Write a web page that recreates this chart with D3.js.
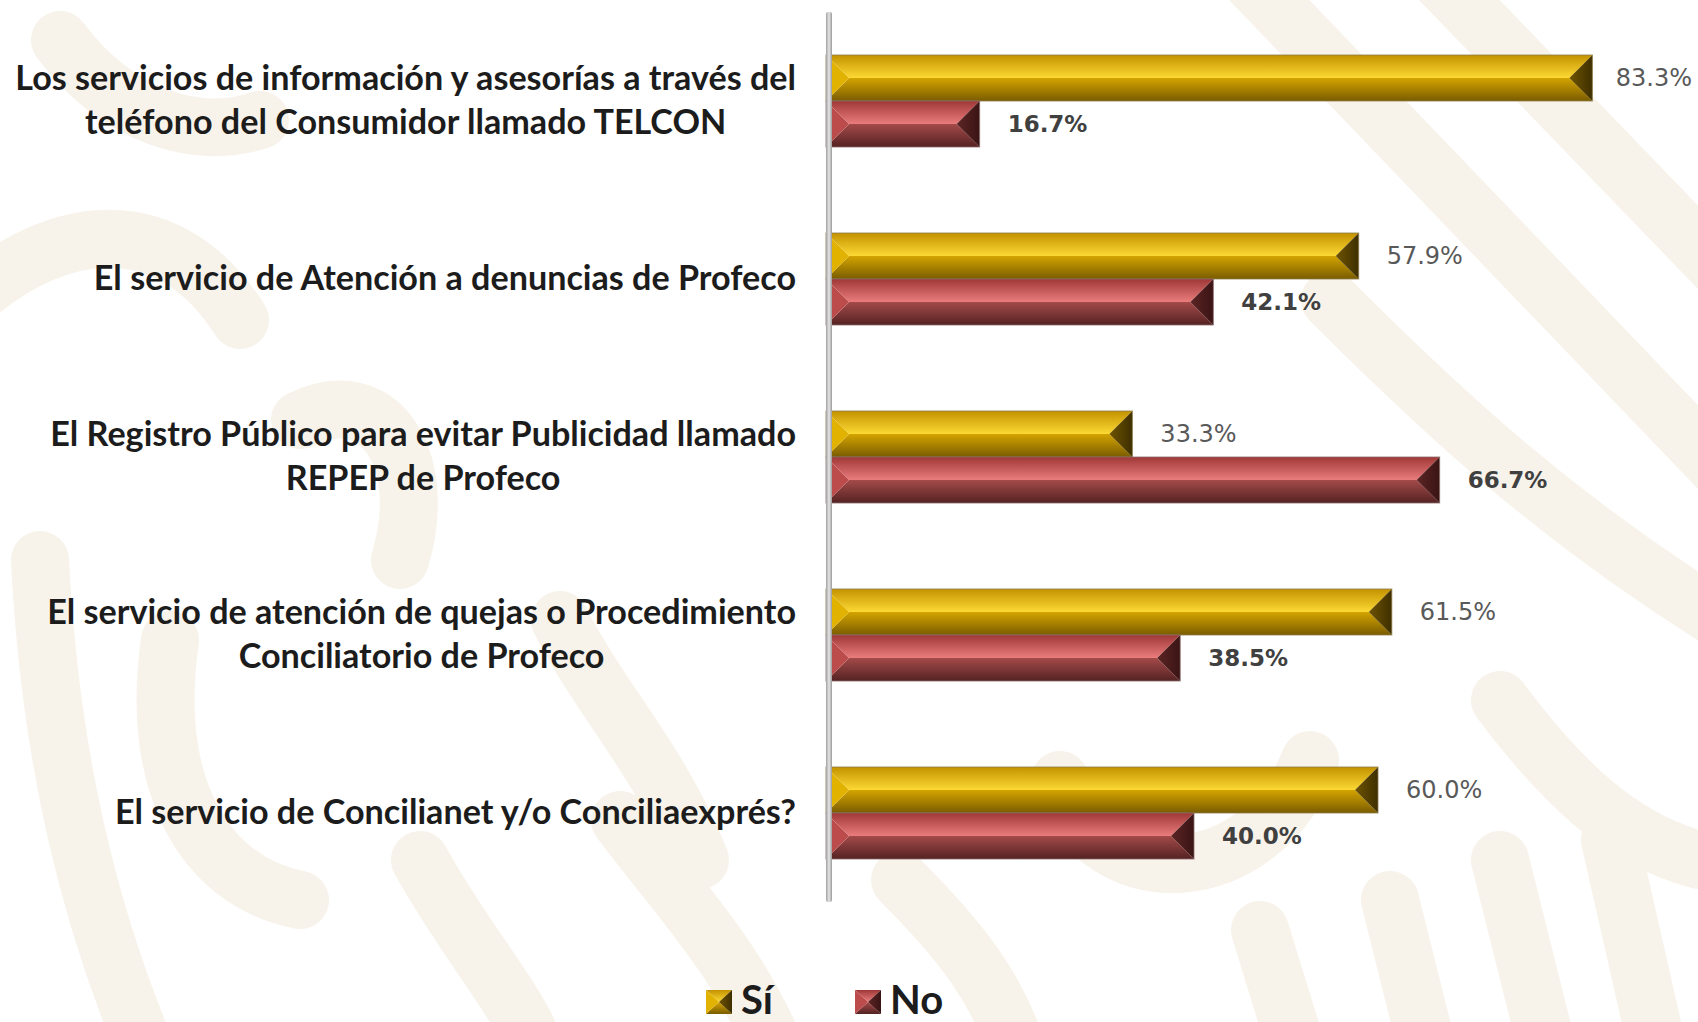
<!DOCTYPE html>
<html>
<head>
<meta charset="utf-8">
<script src="https://cdn.jsdelivr.net/npm/d3@7"></script>
<style>
  html, body { margin: 0; padding: 0; background: #fff; overflow: hidden; }
  svg { display: block; }
</style>
</head>
<body>
<svg id="chart" width="1698" height="1022"></svg>
<script>
// Datos de la gráfica
const categories = [
  'Los servicios de información y asesorías a través del teléfono del Consumidor llamado TELCON',
  'El servicio de Atención a denuncias de Profeco',
  'El Registro Público para evitar Publicidad llamado REPEP de Profeco',
  'El servicio de atención de quejas o Procedimiento Conciliatorio de Profeco',
  'El servicio de Concilianet y/o Conciliaexprés?'
];
const categoryLines = [
  ['Los servicios de información y asesorías a través del', 'teléfono del Consumidor llamado TELCON'],
  ['El servicio de Atención a denuncias de Profeco'],
  ['El Registro Público para evitar Publicidad llamado', 'REPEP de Profeco'],
  ['El servicio de atención de quejas o Procedimiento', 'Conciliatorio de Profeco'],
  ['El servicio de Concilianet y/o Conciliaexprés?']
];
const seriesNames = ['Sí', 'No'];
const siValues = [83.3, 57.9, 33.3, 61.5, 60.0];
const noValues = [16.7, 42.1, 66.7, 38.5, 40.0];

const W = 1698, H = 1022;
const PALETTE = {
  'Sí': { top0: '#c49200', top1: '#fcd934', bot0: '#d4a400', bot1: '#7a5c00', left: '#e2b200', right0: '#6e5300', right1: '#3e2f00', edge: '#8c7a4a' },
  'No': { top0: '#a03838', top1: '#ea7c7c', bot0: '#a44a4a', bot1: '#552222', left: '#bc4c4c', right0: '#5c2424', right1: '#3a1414', edge: '#8a6a6a' }
};

const svg = d3.select('#chart');
const defs = svg.append('defs');

// ── Fondo decorativo ─────────────────────────────────────────────────────────
const bgPaths = [
  'M -30 300 C 60 220, 170 210, 240 320',
  'M 40 560 C 50 760, 90 920, 150 1060',
  'M 170 640 C 150 780, 200 880, 300 900',
  'M 300 420 C 380 380, 430 460, 400 560',
  'M 420 860 C 470 950, 520 1000, 540 1060',
  'M 560 620 C 600 700, 660 760, 700 860',
  'M 620 820 C 680 900, 740 960, 780 1060',
  'M 1060 780 C 1100 900, 1260 890, 1310 760',
  'M 1250 -20 L 1720 470',
  'M 1440 -20 L 1720 270',
  'M 1330 300 C 1450 420, 1560 520, 1720 620',
  'M 1500 700 C 1560 780, 1620 840, 1700 860',
  'M 1260 930 L 1300 1060',
  'M 1390 900 L 1430 1060',
  'M 1500 860 L 1550 1060',
  'M 1610 840 L 1660 1060',
  'M 900 880 C 960 940, 1000 990, 1020 1060',
  'M 60 40 C 120 120, 200 140, 260 120'
];
svg.append('g')
  .selectAll('path')
  .data(bgPaths)
  .join('path')
  .attr('d', d => d)
  .attr('fill', 'none')
  .attr('stroke', '#f8f3ea')
  .attr('stroke-width', 58)
  .attr('stroke-linecap', 'round');

// ── Degradados ───────────────────────────────────────────────────────────────
seriesNames.forEach((s, i) => {
  const p = PALETTE[s];
  const top = defs.append('linearGradient').attr('id', `top${i}`).attr('x1', 0).attr('y1', 0).attr('x2', 0).attr('y2', 1);
  top.append('stop').attr('offset', '0%').attr('stop-color', p.top0);
  top.append('stop').attr('offset', '100%').attr('stop-color', p.top1);
  const bot = defs.append('linearGradient').attr('id', `bot${i}`).attr('x1', 0).attr('y1', 0).attr('x2', 0).attr('y2', 1);
  bot.append('stop').attr('offset', '0%').attr('stop-color', p.bot0);
  bot.append('stop').attr('offset', '100%').attr('stop-color', p.bot1);
  const right = defs.append('linearGradient').attr('id', `right${i}`).attr('x1', 0).attr('y1', 0).attr('x2', 1).attr('y2', 0);
  right.append('stop').attr('offset', '0%').attr('stop-color', p.right0);
  right.append('stop').attr('offset', '100%').attr('stop-color', p.right1);
});
const axisGrad = defs.append('linearGradient').attr('id', 'axisGrad').attr('x1', 0).attr('y1', 0).attr('x2', 1).attr('y2', 0);
axisGrad.append('stop').attr('offset', '0%').attr('stop-color', '#a0a0a0');
axisGrad.append('stop').attr('offset', '50%').attr('stop-color', '#e6e6e6');
axisGrad.append('stop').attr('offset', '100%').attr('stop-color', '#9a9a9a');

// ── Escalas ──────────────────────────────────────────────────────────────────
const x = d3.scaleLinear().domain([0, 100]).range([826, 1746]);
const y0 = d3.scaleBand().domain(categories).range([12, 902]).padding(0);
const y1 = d3.scaleBand().domain(seriesNames).range([43, 135]).padding(0);

const rows = categories.map((c, i) => ({
  cat: c,
  lines: categoryLines[i],
  values: [
    { series: 'Sí', si: 0, value: siValues[i] },
    { series: 'No', si: 1, value: noValues[i] }
  ]
}));

// Barra biselada (estilo Excel "ángulo")
function bevelBar(g, bx0, bx1, by0, by1, si) {
  const h = by1 - by0;
  const b = Math.min(h / 2, (bx1 - bx0) / 2);
  const ym = by0 + h / 2;
  const p = PALETTE[seriesNames[si]];
  const pt = arr => arr.map(a => a.join(',')).join(' ');
  g.append('polygon').attr('points', pt([[bx0, by0], [bx1, by0], [bx1 - b, ym], [bx0 + b, ym]])).attr('fill', `url(#top${si})`);
  g.append('polygon').attr('points', pt([[bx0 + b, ym], [bx1 - b, ym], [bx1, by1], [bx0, by1]])).attr('fill', `url(#bot${si})`);
  g.append('polygon').attr('points', pt([[bx0, by0], [bx0 + b, ym], [bx0, by1]])).attr('fill', p.left);
  g.append('polygon').attr('points', pt([[bx1, by0], [bx1, by1], [bx1 - b, ym]])).attr('fill', `url(#right${si})`);
  g.append('rect').attr('x', bx0).attr('y', by0).attr('width', bx1 - bx0).attr('height', h)
    .attr('fill', 'none').attr('stroke', p.edge).attr('stroke-width', 1).attr('stroke-opacity', 0.8);
}

// ── Barras ───────────────────────────────────────────────────────────────────
const groups = svg.append('g')
  .selectAll('g.cat')
  .data(rows)
  .join('g')
  .attr('class', 'cat')
  .attr('transform', d => `translate(0,${y0(d.cat)})`);

groups.each(function(d) {
  const g = d3.select(this);
  d.values.forEach(v => {
    const by = y1(v.series);
    bevelBar(g.append('g'), x(0), x(v.value), by, by + y1.bandwidth(), v.si);
  });
});

// Etiquetas de valores
groups.each(function(d) {
  const g = d3.select(this);
  d.values.forEach(v => {
    const t = g.append('text')
      .attr('y', y1(v.series) + y1.bandwidth() / 2)
      .attr('dominant-baseline', 'central')
      .style('font-family', '"DejaVu Sans", Verdana, sans-serif')
      .style('font-size', v.si === 0 ? '24px' : '23px')
      .style('font-weight', v.si === 0 ? 'normal' : 'bold')
      .style('fill', v.si === 0 ? '#595959' : '#404040')
      .text(v.value.toFixed(1) + '%');
    const w = t.node().getComputedTextLength();
    t.attr('x', Math.min(x(v.value) + 28, W - 6 - w));
  });
});

// Eje vertical
svg.append('rect')
  .attr('x', x(0)).attr('y', y0.range()[0])
  .attr('width', 6).attr('height', y0.range()[1] - y0.range()[0])
  .attr('rx', 2)
  .attr('fill', 'url(#axisGrad)');

// ── Etiquetas de categoría ───────────────────────────────────────────────────
const LABEL_RIGHT = 796;
const LINE_GAP = 44;
const labels = groups.append('text')
  .attr('text-anchor', 'middle')
  .style('font-family', 'Lato, "Open Sans", sans-serif')
  .style('font-weight', 700)
  .style('font-size', '28px')
  .style('fill', '#1c1c1c');

labels.selectAll('tspan')
  .data(d => d.lines.map((l, i) => ({ l, i, n: d.lines.length })))
  .join('tspan')
  .attr('y', d => y0.bandwidth() / 2 - 3 + (d.i - (d.n - 1) / 2) * LINE_GAP)
  .attr('dominant-baseline', 'central')
  .text(d => d.l);

// Ajustar tamaño para que la línea más larga ocupe ~781 px
let maxLen = 0;
labels.selectAll('tspan').each(function() { maxLen = Math.max(maxLen, this.getComputedTextLength()); });
labels.style('font-size', (28 * 781 / maxLen).toFixed(2) + 'px');

// Bloque alineado a la derecha, líneas centradas entre sí
labels.each(function() {
  const spans = d3.select(this).selectAll('tspan');
  let w = 0;
  spans.each(function() { w = Math.max(w, this.getComputedTextLength()); });
  spans.attr('x', LABEL_RIGHT - w / 2);
});

// ── Leyenda ──────────────────────────────────────────────────────────────────
const legend = svg.append('g')
  .selectAll('g')
  .data(seriesNames)
  .join('g')
  .attr('transform', (d, i) => `translate(${706 + i * 149},990)`);

legend.each(function(d, i) {
  const g = d3.select(this);
  const m = 26;
  const p = PALETTE[d];
  const pt = arr => arr.map(a => a.join(',')).join(' ');
  const c = [m / 2, 12];
  g.append('polygon').attr('points', pt([[0, 0], [m, 0], c])).attr('fill', `url(#top${i})`);
  g.append('polygon').attr('points', pt([[0, 24], [m, 24], c])).attr('fill', `url(#bot${i})`);
  g.append('polygon').attr('points', pt([[0, 0], [0, 24], c])).attr('fill', p.left);
  g.append('polygon').attr('points', pt([[m, 0], [m, 24], c])).attr('fill', `url(#right${i})`);
  g.append('text')
    .attr('x', 35).attr('y', 24)
    .style('font-family', 'Lato, "Open Sans", sans-serif')
    .style('font-weight', 700)
    .style('font-size', '40px')
    .style('fill', '#1c1c1c')
    .text(d);
});
</script>
</body>
</html>
